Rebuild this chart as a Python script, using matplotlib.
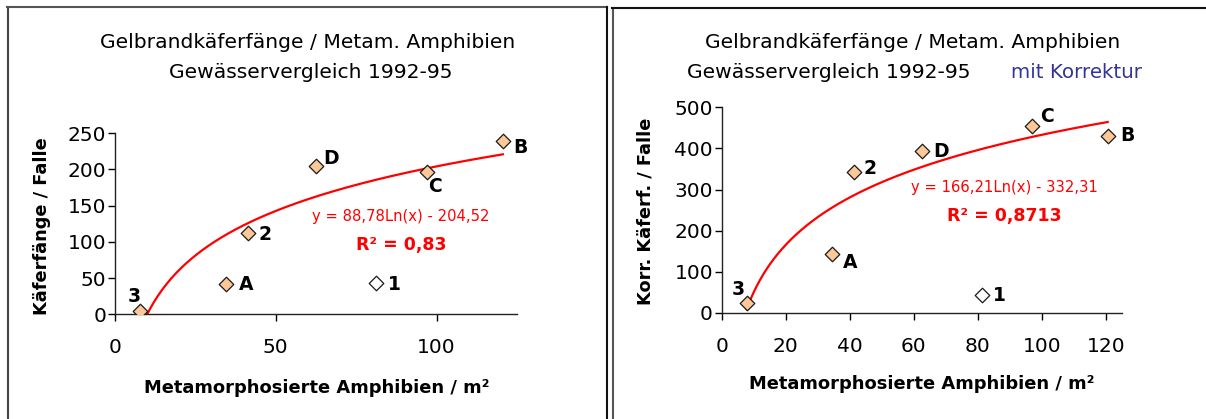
import matplotlib
matplotlib.use("Agg")
import matplotlib.pyplot as plt
import numpy as np
from matplotlib.lines import Line2D

# the reference is a horizontally stretched Arial rendering; DejaVu's wider glyphs fit it best
plt.rcParams["font.family"] = ["DejaVu Sans"]

# ─── Data ──────────────────────────────────────────────────────────────────
site_labels = ["3", "A", "2", "D", "1", "C", "B"]
amphibien = [7.8, 34.5, 41.4, 62.6, 81.3, 96.9, 120.6]          # metam. Amphibien / m²
kaefer = [5, 42, 112, 205, 43, 197, 240]                        # Käferfänge / Falle
kaefer_korr = [25, 143, 342, 393, 44, 455, 431]                 # korr. Käferfänge / Falle
in_fit = [True, True, True, True, False, True, True]            # site 1 not in the trend

# trend line coefficients y = a*ln(x) + b as printed in the chart
fit_left = (88.78, -204.52)
fit_right = (166.21, -332.31)

# label offsets (pixels, x right / y up) relative to each marker
offs_left = [(-6, 14), (20, -1), (17, -1), (15, 7), (18, -1), (8, -15), (18, -7)]
offs_right = [(-8, 13), (18, -8), (16, 4), (19, 0), (18, -1), (15, 9), (20, 0)]

W, H = 1206, 419
FILL = "#FCC898"
EDGE = "#1a1a1a"


def fx(px):
    return px / W


def fy(py):
    return 1 - py / H


def draw_panel(ax, yvals, fit, offs, ymax, ystep, xticks):
    x = np.array(amphibien)
    y = np.array(yvals)
    m = np.array(in_fit)
    # trend line over the range of fitted points
    xs = np.linspace(x[m].min(), x[m].max(), 300)
    ax.plot(xs, fit[0] * np.log(xs) + fit[1], color="#FF0000", lw=1.6, zorder=2)
    ax.scatter(x[m], y[m], marker="D", s=55, facecolor=FILL, edgecolor=EDGE, linewidth=0.9, zorder=3)
    ax.scatter(x[~m], y[~m], marker="D", s=55, facecolor="white", edgecolor=EDGE, linewidth=0.9, zorder=3)
    for lab, xi, yi, (dx, dy) in zip(site_labels, x, y, offs):
        ax.annotate(lab, (xi, yi), xytext=(dx, dy), textcoords="offset pixels",
                    ha="center", va="center", fontsize=13.5, fontweight="bold", color="black")
    ax.set_xlim(0, 125)
    ax.set_ylim(0, ymax)
    ax.set_xticks(xticks)
    ax.set_yticks(np.arange(0, ymax + 1, ystep))
    for s in ("top", "right"):
        ax.spines[s].set_visible(False)
    for s in ("left", "bottom"):
        ax.spines[s].set_linewidth(1.0)
        ax.spines[s].set_color("#222222")
    ax.tick_params(axis="y", direction="out", length=4.8, width=1.0, labelsize=14.5, pad=1.5)
    ax.tick_params(axis="x", direction="out", length=5.0, width=1.0, labelsize=14.5, pad=12)
    ax.patch.set_alpha(0)


fig = plt.figure(figsize=(W / 100, H / 100), dpi=100)

# ── left panel ──────────────────────────────────────────────────────────────
axL = fig.add_axes([fx(115), fy(314.3), fx(402), 181 / H])
draw_panel(axL, kaefer, fit_left, offs_left, 250, 50, [0, 50, 100])
fig.text(fx(308), fy(42), "Gelbrandkäferfänge / Metam. Amphibien", ha="center", va="center", fontsize=14.6)
fig.text(fx(311), fy(72), "Gewässervergleich 1992-95", ha="center", va="center", fontsize=14.6)
fig.text(fx(42), fy(226), "Käferfänge / Falle", rotation=90, ha="center", va="center",
         fontsize=12.8, fontweight="bold")
fig.text(fx(317), fy(388), "Metamorphosierte Amphibien / m²", ha="center", va="center",
         fontsize=12.9, fontweight="bold")
fig.text(fx(401), fy(216), "y = 88,78Ln(x) - 204,52", ha="center", va="center", fontsize=10.6, color="#FF0000")
fig.text(fx(401), fy(245), "R² = 0,83", ha="center", va="center", fontsize=12.5, fontweight="bold",
         color="#FF0000")

# ── right panel ─────────────────────────────────────────────────────────────
axR = fig.add_axes([fx(721.7), fy(313), fx(400), 205.7 / H])
draw_panel(axR, kaefer_korr, fit_right, offs_right, 500, 100, [0, 20, 40, 60, 80, 100, 120])
fig.text(fx(913), fy(42), "Gelbrandkäferfänge / Metam. Amphibien", ha="center", va="center", fontsize=14.6)
fig.text(fx(829), fy(72), "Gewässervergleich 1992-95", ha="center", va="center", fontsize=14.6)
fig.text(fx(1011), fy(72), "mit Korrektur", ha="left", va="center", fontsize=14.3, color="#333399")
fig.text(fx(646), fy(211), "Korr. Käferf. / Falle", rotation=90, ha="center", va="center",
         fontsize=12.8, fontweight="bold")
fig.text(fx(922), fy(384), "Metamorphosierte Amphibien / m²", ha="center", va="center",
         fontsize=12.9, fontweight="bold")
fig.text(fx(1004), fy(187), "y = 166,21Ln(x) - 332,31", ha="center", va="center", fontsize=10.6,
         color="#FF0000")
fig.text(fx(1004), fy(216), "R² = 0,8713", ha="center", va="center", fontsize=12.5, fontweight="bold",
         color="#FF0000")

# ── chart-area borders ─────────────────────────────────────────────────────
borders = [
    ((7.5, 7.5), (7, H), "#444444"),
    ((7, 607), (7.5, 7.5), "#555555"),
    ((606.5, 606.5), (7, H), "#111111"),
    ((612.5, 612.5), (8, H), "#555555"),
    ((612, W), (8.5, 8.5), "#111111"),
]
for xs_, ys_, c in borders:
    fig.add_artist(Line2D([fx(v) for v in xs_], [fy(v) for v in ys_], color=c, lw=1.5))

fig.savefig("out.png", dpi=100)
